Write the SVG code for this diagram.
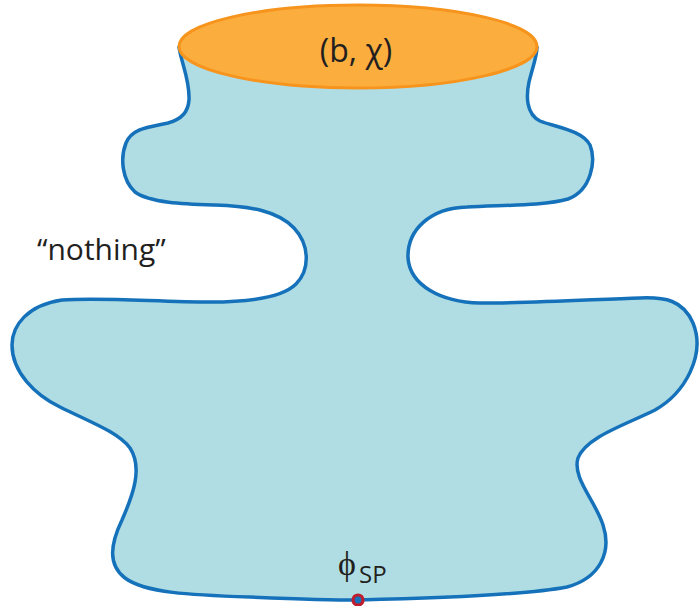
<svg xmlns="http://www.w3.org/2000/svg" width="699" height="606" viewBox="0 0 699 606">
<style>
.body{fill:#B0DDE3;stroke:#1572BA;stroke-width:3.5;stroke-linejoin:round}
.top{fill:#FBAE3E;stroke:#F7941D;stroke-width:3}
.lbl{font-family:"Open Sans","Liberation Sans",sans-serif;fill:#231F20}
</style>
<rect width="699" height="606" fill="#ffffff"/>
<g id="body">
<path class="body" d="M179,47 C181,62 190,80 189,100 C188,112 182,119 168,123 C150,127 132,128 126,143 C120,158 122,180 135,192 C150,203 185,204 215,205 C250,206 278,211 294,228 C310,245 310,270 296,284 C282,298 250,302 210,302 C160,302 100,297 62,300 C28,305 12,325 12,345 C12,372 35,395 60,407 C90,422 118,432 130,448 C143,468 133,495 122,520 C110,545 108,565 125,578 C145,593 190,595 250,597 C300,599 330,600 358,600 C450,598 530,594 567,587 C600,578 612,552 603,525 C595,500 572,478 578,458 C586,437 625,425 655,410 C685,393 706,355 693,323 C683,300 665,297 640,298 C600,299 540,303 480,303 C440,302 410,285 408,258 C407,230 430,208 467,207 C500,205 545,206 568,199 C592,190 596,160 590,145 C582,130 555,127 540,121 C526,114 526,96 529,82 C533,66 537,56 537,47 Z"/>
</g>
<g id="top">
<ellipse class="top" cx="358" cy="46.5" rx="179" ry="41.5"/>
<text class="lbl" x="356" y="62" font-size="32" text-anchor="middle">(b, χ)</text>
</g>
<g id="nothing">
<text class="lbl" x="37" y="260" font-size="30">“nothing”</text>
</g>
<g id="phi">
<text x="338" y="575" font-family="Liberation Serif, serif" font-size="34" fill="#231F20">ϕ</text>
<text class="lbl" x="359" y="583" font-size="24">SP</text>
<circle cx="358" cy="600" r="5" fill="#1572BA" stroke="#BE1E2D" stroke-width="3.2"/>
</g>
</svg>
